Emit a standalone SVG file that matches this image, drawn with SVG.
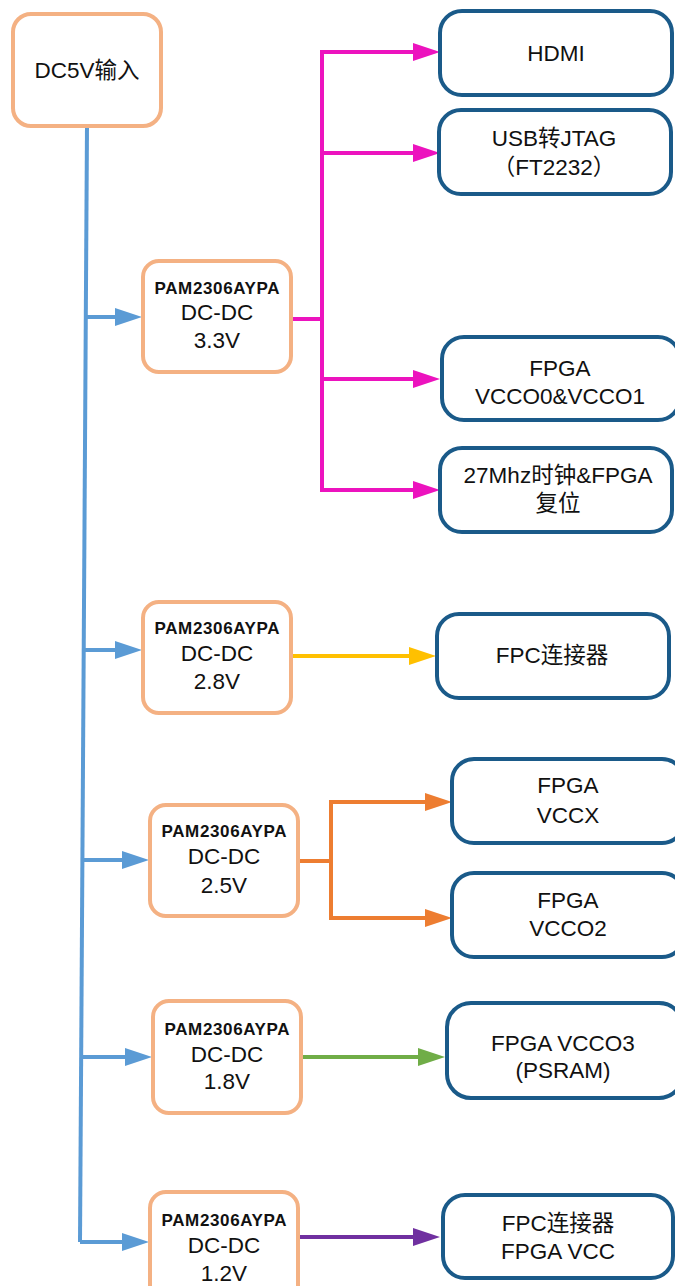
<svg xmlns="http://www.w3.org/2000/svg" width="675" height="1286" viewBox="0 0 675 1286">
<style>
.src{fill:#fff;stroke:#F4B183;stroke-width:4}
.dst{fill:#fff;stroke:#1A5A89;stroke-width:4}
.t{font-family:"Liberation Sans","Noto Sans CJK SC",sans-serif;font-size:22.5px;fill:#111;text-anchor:middle}
.b{font-family:"Liberation Sans",sans-serif;font-size:17px;font-weight:bold;fill:#111;text-anchor:middle}
.c{fill:none;stroke-width:4}
</style>
<defs>
<marker id="aBlue" viewBox="0 0 27 18" refX="17" refY="9" markerWidth="27" markerHeight="18" markerUnits="userSpaceOnUse" orient="auto"><path d="M0,0 L27,9 L0,18 z" fill="#5B9BD5"/></marker>
<marker id="aMag" viewBox="0 0 27 18" refX="17" refY="9" markerWidth="27" markerHeight="18" markerUnits="userSpaceOnUse" orient="auto"><path d="M0,0 L27,9 L0,18 z" fill="#EC13BE"/></marker>
<marker id="aYel" viewBox="0 0 27 18" refX="17" refY="9" markerWidth="27" markerHeight="18" markerUnits="userSpaceOnUse" orient="auto"><path d="M0,0 L27,9 L0,18 z" fill="#FFC000"/></marker>
<marker id="aOra" viewBox="0 0 27 18" refX="17" refY="9" markerWidth="27" markerHeight="18" markerUnits="userSpaceOnUse" orient="auto"><path d="M0,0 L27,9 L0,18 z" fill="#ED7D31"/></marker>
<marker id="aGre" viewBox="0 0 27 18" refX="17" refY="9" markerWidth="27" markerHeight="18" markerUnits="userSpaceOnUse" orient="auto"><path d="M0,0 L27,9 L0,18 z" fill="#70AD47"/></marker>
<marker id="aPur" viewBox="0 0 27 18" refX="17" refY="9" markerWidth="27" markerHeight="18" markerUnits="userSpaceOnUse" orient="auto"><path d="M0,0 L27,9 L0,18 z" fill="#7030A0"/></marker>
</defs>

<g id="connectors">
<path class="c" stroke="#5B9BD5" d="M87,126 L80,1242"/>
<path class="c" stroke="#5B9BD5" marker-end="url(#aBlue)" d="M86,317 H132"/>
<path class="c" stroke="#5B9BD5" marker-end="url(#aBlue)" d="M84,650 H132"/>
<path class="c" stroke="#5B9BD5" marker-end="url(#aBlue)" d="M82,860 H139"/>
<path class="c" stroke="#5B9BD5" marker-end="url(#aBlue)" d="M81,1057 H142"/>
<path class="c" stroke="#5B9BD5" marker-end="url(#aBlue)" d="M80,1242 H139"/>

<path class="c" stroke="#EC13BE" d="M292,319 H322"/>
<path class="c" stroke="#EC13BE" d="M322,52 V490"/>
<path class="c" stroke="#EC13BE" marker-end="url(#aMag)" d="M320,52 H430"/>
<path class="c" stroke="#EC13BE" marker-end="url(#aMag)" d="M320,153 H430"/>
<path class="c" stroke="#EC13BE" marker-end="url(#aMag)" d="M320,379 H430"/>
<path class="c" stroke="#EC13BE" marker-end="url(#aMag)" d="M320,490 H430"/>

<path class="c" stroke="#FFC000" marker-end="url(#aYel)" d="M292,656 H426"/>

<path class="c" stroke="#ED7D31" d="M298,861 H331"/>
<path class="c" stroke="#ED7D31" d="M331,802 V918"/>
<path class="c" stroke="#ED7D31" marker-end="url(#aOra)" d="M329,802 H442"/>
<path class="c" stroke="#ED7D31" marker-end="url(#aOra)" d="M329,918 H442"/>

<path class="c" stroke="#70AD47" marker-end="url(#aGre)" d="M302,1057 H435"/>
<path class="c" stroke="#7030A0" marker-end="url(#aPur)" d="M298,1237 H430"/>
</g>

<g id="dc5v">
<rect class="src" x="13" y="14" width="148" height="112" rx="18"/>
<text class="t" x="87" y="78">DC5V输入</text>
</g>

<g id="dcdc33">
<rect class="src" x="143" y="261" width="148" height="111" rx="16"/>
<text class="b" x="217" y="294" textLength="125" lengthAdjust="spacing">PAM2306AYPA</text>
<text class="t" x="217" y="320">DC-DC</text>
<text class="t" x="217" y="348">3.3V</text>
</g>

<g id="dcdc28">
<rect class="src" x="143" y="602" width="148" height="111" rx="16"/>
<text class="b" x="217" y="634" textLength="125" lengthAdjust="spacing">PAM2306AYPA</text>
<text class="t" x="217" y="661">DC-DC</text>
<text class="t" x="217" y="689">2.8V</text>
</g>

<g id="dcdc25">
<rect class="src" x="150" y="805" width="148" height="111" rx="16"/>
<text class="b" x="224" y="837" textLength="125" lengthAdjust="spacing">PAM2306AYPA</text>
<text class="t" x="224" y="864">DC-DC</text>
<text class="t" x="224" y="893">2.5V</text>
</g>

<g id="dcdc18">
<rect class="src" x="153" y="1001" width="148" height="112" rx="16"/>
<text class="b" x="227" y="1035" textLength="125" lengthAdjust="spacing">PAM2306AYPA</text>
<text class="t" x="227" y="1062">DC-DC</text>
<text class="t" x="227" y="1089">1.8V</text>
</g>

<g id="dcdc12">
<rect class="src" x="150" y="1192" width="148" height="111" rx="16"/>
<text class="b" x="224" y="1226" textLength="125" lengthAdjust="spacing">PAM2306AYPA</text>
<text class="t" x="224" y="1253">DC-DC</text>
<text class="t" x="224" y="1281">1.2V</text>
</g>

<g id="hdmi">
<rect class="dst" x="440" y="11" width="232" height="84" rx="22"/>
<text class="t" x="556" y="61">HDMI</text>
</g>

<g id="usbjtag">
<rect class="dst" x="439" y="110" width="232" height="84" rx="22"/>
<text class="t" x="554" y="146">USB转JTAG</text>
<text class="t" x="554" y="175">（FT2232）</text>
</g>

<g id="vcco01">
<rect class="dst" x="442" y="337" width="238" height="83" rx="22"/>
<text class="t" x="560" y="376">FPGA</text>
<text class="t" x="560" y="404">VCCO0&amp;VCCO1</text>
</g>

<g id="clk">
<rect class="dst" x="440" y="448" width="232" height="84" rx="22"/>
<text class="t" x="558" y="483">27Mhz时钟&amp;FPGA</text>
<text class="t" x="558" y="511">复位</text>
</g>

<g id="fpc28">
<rect class="dst" x="437" y="614" width="232" height="84" rx="22"/>
<text class="t" x="552" y="663">FPC连接器</text>
</g>

<g id="vccx">
<rect class="dst" x="452" y="759" width="232" height="84" rx="22"/>
<text class="t" x="568" y="793">FPGA</text>
<text class="t" x="568" y="823">VCCX</text>
</g>

<g id="vcco2">
<rect class="dst" x="452" y="873" width="232" height="84" rx="22"/>
<text class="t" x="568" y="908">FPGA</text>
<text class="t" x="568" y="936">VCCO2</text>
</g>

<g id="vcco3">
<rect class="dst" x="447" y="1003" width="236" height="95" rx="24"/>
<text class="t" x="563" y="1051">FPGA VCCO3</text>
<text class="t" x="563" y="1078">(PSRAM)</text>
</g>

<g id="fpcvcc">
<rect class="dst" x="443" y="1195" width="230" height="83" rx="22"/>
<text class="t" x="558" y="1231">FPC连接器</text>
<text class="t" x="558" y="1259">FPGA VCC</text>
</g>
</svg>
